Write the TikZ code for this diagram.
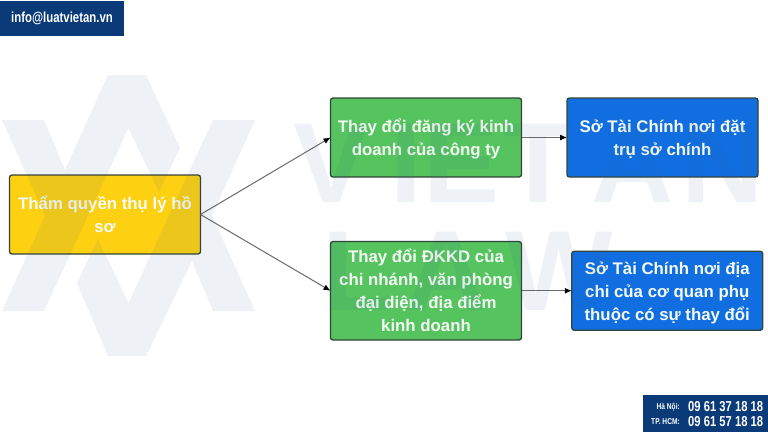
\documentclass[tikz,border=0pt]{standalone}
\usepackage{fontspec}
\setmainfont{Liberation Sans}
\newfontfamily\wmfont{Liberation Sans}
\newfontfamily\condfont[FakeStretch=0.78]{Liberation Sans}
\usetikzlibrary{arrows.meta}
\definecolor{cyellow}{HTML}{FDD012}
\definecolor{cgreen}{HTML}{55C45F}
\definecolor{cblue}{HTML}{116EE0}
\definecolor{cnavy}{HTML}{0A3A78}
\definecolor{cedge}{HTML}{33443A}
\definecolor{cwm}{HTML}{2A5C8E}
\definecolor{ctext}{HTML}{F4FAF4}
\newcommand{\ftop}{\rule{0pt}{18pt}}
\newcommand{\fbot}{\rule[-5pt]{0pt}{5pt}}
\tikzset{
  flowbox/.style={draw=cedge,line width=1.3pt,rounded corners=2.5pt,inner sep=0pt,outer sep=0pt,align=center,
    font=\fontsize{16.8}{23}\selectfont\bfseries,text=ctext},
  ybox/.style={flowbox,fill=cyellow,minimum width=191pt,minimum height=79pt},
  gbox/.style={flowbox,fill=cgreen,minimum width=191pt},
  bbox/.style={flowbox,fill=cblue,minimum width=191pt,minimum height=79pt},
  link/.style={draw=black!58,line width=1pt,-{Latex[black,length=7pt,width=6pt]}},
  badge/.style={fill=cnavy,draw=none,inner sep=0pt,outer sep=0pt,text=white,align=center},
  wmtext/.style={text=cwm,opacity=0.08,inner sep=0pt,outer sep=0pt,anchor=base west,font=\wmfont\fontsize{114}{114}\selectfont\bfseries},
  smalltxt/.style={text=white,inner sep=0pt,font=\condfont\fontsize{8.5}{9}\selectfont\bfseries},
  phonetxt/.style={text=white,inner sep=0pt,font=\condfont\fontsize{14.4}{15}\selectfont\bfseries}
}
\begin{document}
\begin{tikzpicture}[x=1pt,y=-1pt]
\useasboundingbox (0,0) rectangle (768,432);
\fill[white] (0,0) rectangle (768,432);

\node[ybox] (src) at (105,214.5) {\ftop Thẩm quyền thụ lý hồ\\sơ\fbot};
\node[gbox,minimum height=79pt] (g1) at (426,137.5) {\ftop Thay đổi đăng ký kinh\\doanh của công ty\fbot};
\node[gbox,minimum height=98.5pt] (g2) at (426,290.75) {\ftop Thay đổi ĐKKD của\\chi nhánh, văn phòng\\đại diện, địa điểm\\kinh doanh\fbot};
\node[bbox] (b1) at (662.5,137.5) {\ftop Sở Tài Chính nơi đặt\\trụ sở chính\fbot};
\node[bbox] (b2) at (667.25,290.75) {\ftop Sở Tài Chính nơi địa\\chi của cơ quan phụ\\thuộc có sự thay đổi\fbot};

\draw[link] (src.east) -- (g1.west);
\draw[link] (src.east) -- (g2.west);
\draw[link] (g1.east) -- (b1.west);
\draw[link] (g2.east) -- (b2.west);

% watermark
\fill[cwm,opacity=0.08]
  (2,311) -- (44,311) -- (128.5,128) -- (159,192) -- (180,148) -- (146,75) -- (108,75) -- (65,170) -- (44,120) -- (2,120) -- (45,215.5) -- cycle
  (255,120) -- (213,120) -- (128.5,303) -- (98,239) -- (77,283) -- (108,356) -- (146,356) -- (192,261) -- (213,311) -- (255,311) -- (212,215.5) -- cycle;
\begin{scope}
\clip (0,0) rectangle (768,432);
\node[wmtext] (wm1) at (293,202) {V\kern21pt I\kern2pt E\kern4pt T\kern18pt A\kern8pt N};
\node[wmtext] (wm2) at (322,310) {L\kern14pt A\kern18pt W};
\end{scope}

\node[badge,minimum width=124pt,minimum height=35pt,font=\condfont\fontsize{14.6}{15}\selectfont\bfseries] (mail) at (62,18.5) {info@luatvietan.vn};
\fill[cnavy] (643,395) rectangle (768,432);
\node[smalltxt,anchor=east] (l1) at (680,407) {Hà Nội:};
\node[smalltxt,anchor=east] (l2) at (680,421.5) {TP. HCM:};
\node[phonetxt,anchor=west] (n1) at (688,407) {09 61 37 18 18};
\node[phonetxt,anchor=west] (n2) at (688,421.5) {09 61 57 18 18};
\end{tikzpicture}
\end{document}
